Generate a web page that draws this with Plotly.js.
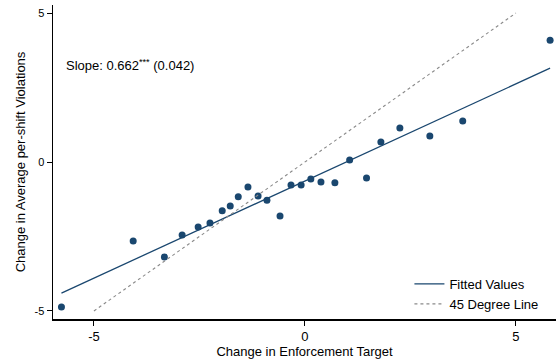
<!DOCTYPE html>
<html><head><meta charset="utf-8">
<script src="https://cdn.plot.ly/plotly-3.0.1.min.js"></script>
<style>html,body{margin:0;padding:0;background:#fff}#chart{width:557px;height:362px}</style>
</head><body><div id="chart"></div>
<script>
const binX = [-5.77,-4.07,-3.33,-2.91,-2.53,-2.25,-1.96,-1.77,-1.58,-1.35,-1.11,-0.90,-0.59,-0.33,-0.09,0.14,0.38,0.71,1.06,1.46,1.80,2.25,2.96,3.74,5.81];
const binY = [-4.87,-2.65,-3.19,-2.45,-2.18,-2.05,-1.64,-1.48,-1.17,-0.84,-1.14,-1.28,-1.81,-0.77,-0.77,-0.57,-0.67,-0.70,0.07,-0.54,0.67,1.14,0.87,1.38,4.09];
const fitX = [-5.77, 5.81];
const fitY = [-4.40, 3.15];
const diagX = [-5, 5];
const diagY = [-5, 5];
const tickVals = [-5, 0, 5];
const tickText = ['-5', '0', '5'];
const navy = '#1a476f';
const font = 'Liberation Sans, Arial, sans-serif';

const traces = [
  {x: binX, y: binY, type: 'scatter', mode: 'markers', marker: {color: navy, size: 7}, showlegend: false, hoverinfo: 'skip'},
  {x: fitX, y: fitY, type: 'scatter', mode: 'lines', line: {color: navy, width: 1.3}, name: 'Fitted Values'},
  {x: diagX, y: diagY, type: 'scatter', mode: 'lines', line: {color: '#8a8a8a', width: 1.1, dash: '3px,3px'}, name: '45 Degree Line'}
];

const layout = {
  width: 557, height: 362,
  margin: {l: 53, r: 1, t: 5, b: 43},
  paper_bgcolor: '#fff', plot_bgcolor: '#fff',
  font: {family: font, color: '#000'},
  xaxis: {range: [-5.97, 5.95], tickvals: tickVals, ticktext: tickText, showgrid: false, zeroline: false,
    showline: true, linecolor: '#000', linewidth: 1.5, ticks: 'outside', ticklen: 5, tickcolor: '#000',
    tickfont: {size: 13, family: font}, title: {text: 'Change in Enforcement Target', font: {size: 13, family: font}, standoff: 4}},
  yaxis: {range: [-5.27, 5.27], tickvals: tickVals, ticktext: tickText, showgrid: false, zeroline: false,
    showline: true, linecolor: '#000', linewidth: 1.5, ticks: 'outside', ticklen: 5, tickcolor: '#000',
    tickfont: {size: 11, family: font}, title: {text: 'Change in Average per-shift Violations', font: {size: 13, family: font}, standoff: 6}},
  legend: {x: 0.975, xanchor: 'right', y: 0.0, yanchor: 'bottom', bgcolor: 'rgba(0,0,0,0)', font: {size: 13, family: font}, tracegroupgap: 0},
  annotations: [{x: -5.72, y: 3.26, xref: 'x', yref: 'y', xanchor: 'left', yanchor: 'middle', showarrow: false,
    text: 'Slope: 0.662<sup>***</sup> (0.042)', font: {size: 13, family: font, color: '#000'}}]
};
Plotly.newPlot('chart', traces, layout, {displayModeBar: false, staticPlot: true});
</script></body></html>
